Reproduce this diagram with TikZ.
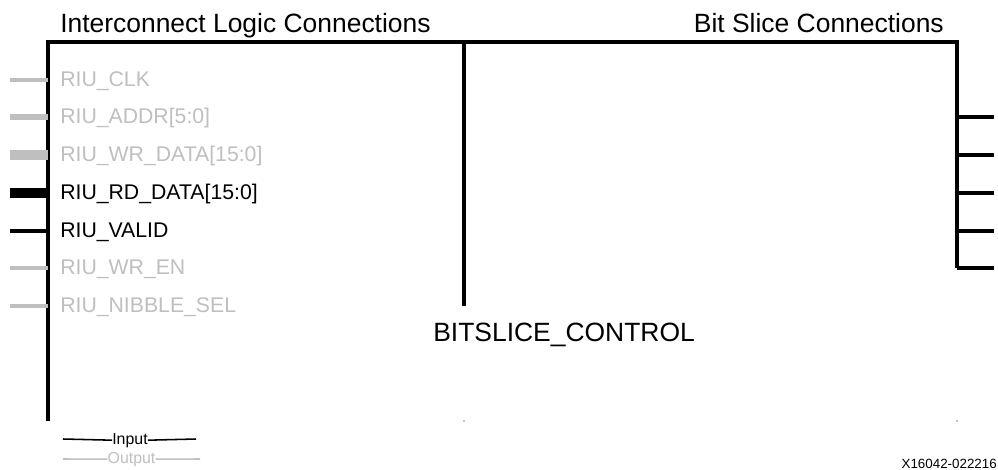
\documentclass[tikz,border=0pt]{standalone}
\usepackage{fontspec}
\setmainfont{Liberation Sans}
\definecolor{pingray}{RGB}{191,191,191}
\tikzset{
  boxline/.style={line width=2.2pt},
  pinlabel/.style={font=\fontsize{15.1}{16}\selectfont, anchor=base west, inner sep=0pt},
  headlabel/.style={font=\fontsize{18.8}{20}\selectfont, inner sep=0pt},
  smalllabel/.style={font=\fontsize{11.3}{12}\selectfont, inner sep=0pt, anchor=base},
}
\begin{document}
\begin{tikzpicture}[x=0.025cm,y=-0.025cm]
\useasboundingbox (0,0) rectangle (998,469);
% block outline
\coordinate (bl) at (48,421);
\coordinate (tl) at (48,42);
\coordinate (tr) at (957,42);
\coordinate (br) at (957,268);
\coordinate (mt) at (464,42);
\coordinate (mb) at (464,306);
\draw[boxline] (bl) -- (tl) -- (tr) -- (br);
\draw[boxline] (mt) -- (mb);
\fill (464,421) circle (0.7);
\fill (957,421) circle (0.7);
% headings
\node[headlabel, anchor=base west] (ilc) at (60,32) {Interconnect Logic Connections};
\node[headlabel, anchor=base east] (bsc) at (944,32) {Bit Slice Connections};
\node[headlabel, anchor=base west] (ctrl) at (433,341) {BITSLICE\_CONTROL};
% interconnect pins
\node[pinlabel, text=pingray] (clk) at (60,86) {RIU\_CLK};
\draw[pingray, line width=2.2pt] (10,80) -- (48,80);
\node[pinlabel, text=pingray] (addr) at (60,123) {RIU\_ADDR[5:0]};
\draw[pingray, line width=3.6pt] (10,117) -- (48,117);
\node[pinlabel, text=pingray] (wrdata) at (60,161) {RIU\_WR\_DATA[15:0]};
\draw[pingray, line width=7pt] (10,155) -- (48,155);
\node[pinlabel] (rddata) at (60,199) {RIU\_RD\_DATA[15:0]};
\draw[line width=7pt] (10,193) -- (48,193);
\node[pinlabel] (valid) at (60,237) {RIU\_VALID};
\draw[line width=2.4pt] (10,231) -- (48,231);
\node[pinlabel, text=pingray] (wren) at (60,274) {RIU\_WR\_EN};
\draw[pingray, line width=2.2pt] (10,268) -- (48,268);
\node[pinlabel, text=pingray] (nibble) at (60,312) {RIU\_NIBBLE\_SEL};
\draw[pingray, line width=2.2pt] (10,306) -- (48,306);
% bit slice pins
\draw[boxline] (957,117) -- (994,117);
\draw[boxline] (957,155) -- (994,155);
\draw[boxline] (957,193) -- (994,193);
\draw[boxline] (957,231) -- (994,231);
\draw[boxline] (957,268) -- (994,268);
% legend
\node[smalllabel] (inp) at (130,444) {Input};
\draw[line width=1.1pt] (63,439) -- (inp.west);
\draw[line width=1.1pt] (inp.east) -- (196,439);
\node[smalllabel, text=pingray] (outp) at (131.5,463) {Output};
\draw[pingray, line width=1.1pt] (63,459) -- (outp.west);
\draw[pingray, line width=1.1pt] (outp.east) -- (200,459);
\node[font=\fontsize{9.5}{10}\selectfont, inner sep=0pt, anchor=base east] (fig) at (997,468) {X16042-022216};
\end{tikzpicture}
\end{document}
